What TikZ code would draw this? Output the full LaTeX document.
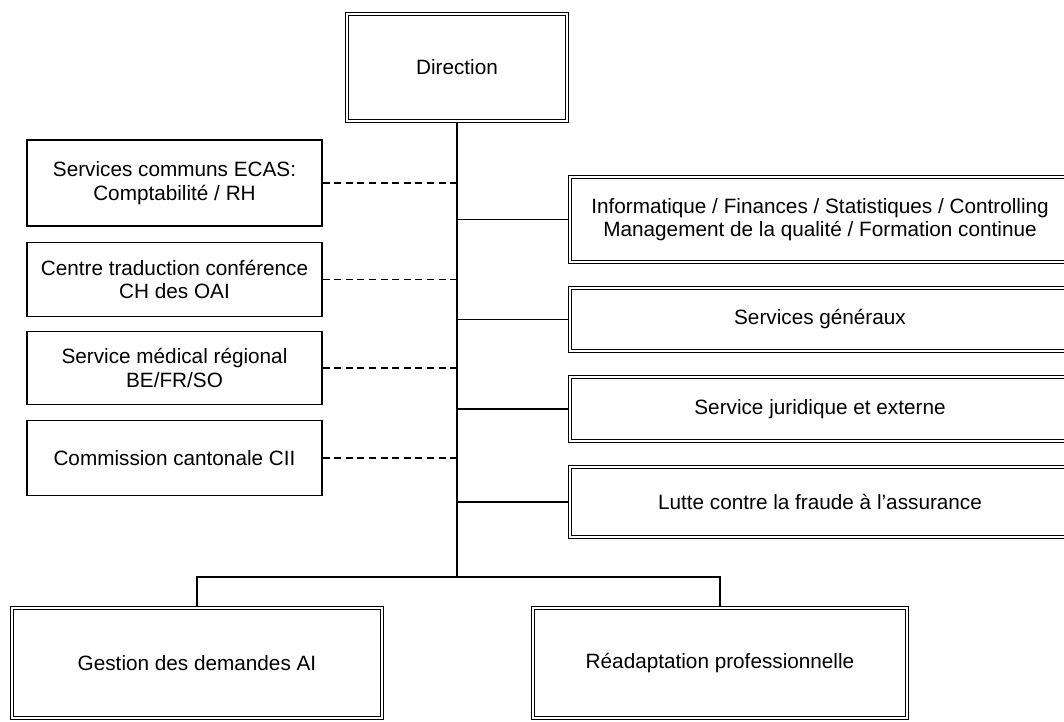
\documentclass[tikz,border=0pt]{standalone}
\usepackage{fontspec}
\setmainfont{Liberation Sans}
\usetikzlibrary{positioning, calc}
\tikzset{
  unitbox/.style={
    draw,
    line width = 0.7pt,
    double,
    double distance = 1.1pt,
    align = center,
    inner sep = 0,
    font = \fontsize{11.8}{13.4}\selectfont
  },
  sidebox/.style={
    draw,
    line width = 0.8pt,
    align = center,
    inner sep = 0,
    minimum width = 5.9cm,
    font = \fontsize{11.8}{13.4}\selectfont
  },
  orgline/.style={
    line width = 0.8pt
  },
  sideline/.style={
    line width = 0.8pt,
    dash pattern = on 4pt off 2.6pt
  }
}

\begin{document}
\begin{tikzpicture}[x=0.02cm, y=-0.02cm]
    \useasboundingbox (0,0) rectangle (1064,721);
    \clip (0,0) rectangle (1064,721);
    \coordinate (bus) at (457,577);
    % top
    \node (direction) at (457,67.5)[unitbox, minimum width=4.4cm, minimum height=2.14cm]{Direction};
    % staff units, left
    \node (ecas) at (174.5,183)[sidebox, minimum height=1.72cm]{Services communs ECAS:\\Comptabilit\'e / RH};
    \node (traduction) at (174.5,279.5)[sidebox, minimum height=1.48cm]{Centre traduction conf\'erence\\CH des OAI};
    \node (medical) at (174.5,368)[sidebox, minimum height=1.46cm]{Service m\'edical r\'egional\\BE/FR/SO};
    \node (cii) at (174.5,458)[sidebox, minimum height=1.5cm]{Commission cantonale CII};
    % units, right
    \node (informatique) at (820,219.5)[unitbox, minimum width=10cm, minimum height=1.7cm]{Informatique / Finances / Statistiques / Controlling\\Management de la qualit\'e / Formation continue};
    \node (generaux) at (820,319.5)[unitbox, minimum width=10cm, minimum height=1.26cm]{Services g\'en\'eraux};
    \node (juridique) at (820,409)[unitbox, minimum width=10cm, minimum height=1.28cm]{Service juridique et externe};
    \node (fraude) at (820,502)[unitbox, minimum width=10cm, minimum height=1.4cm]{Lutte contre la fraude \`a l'assurance};
    % bottom
    \node (demandes) at (197,663)[unitbox, minimum width=7.4cm, minimum height=2.2cm]{Gestion des demandes AI};
    \node (readaptation) at (720,663)[unitbox, minimum width=7.48cm, minimum height=2.2cm]{R\'eadaptation professionnelle};

    \draw[orgline] (direction) -- (bus);
    \foreach \n in {ecas, traduction, medical, cii}
      \draw[sideline] (\n.east) -- (\n.east -| bus);
    \foreach \n in {informatique, generaux, juridique, fraude}
      \draw[orgline] (\n.west -| bus) -- (\n.west);
    \draw[orgline] (demandes.north) |- (bus) -| (readaptation.north);
\end{tikzpicture}
\end{document}
